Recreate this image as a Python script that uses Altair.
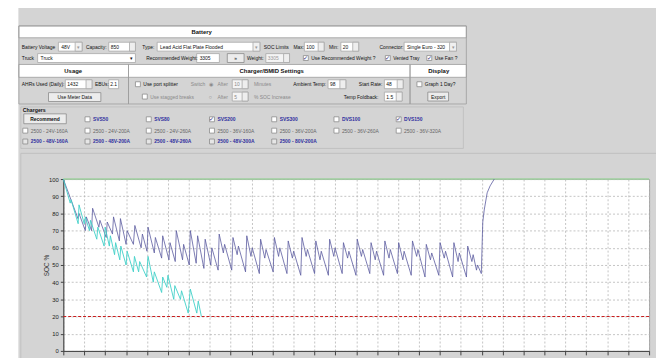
import altair as alt
import pandas as pd

# ---------------- chart data ----------------
cyan_time = [0, 0.33, 0.37, 0.71, 0.75, 1.0, 1.05, 1.25, 1.3, 1.6, 1.65, 1.95, 2.0, 2.2, 2.25,
             2.45, 2.5, 2.7, 2.75, 3.0, 3.05, 3.35, 3.4, 3.6, 3.65, 3.98, 4.05, 4.3, 4.35, 4.7,
             4.75, 4.95, 5.0, 5.28, 5.33, 5.6, 5.65, 5.97, 6.07, 6.38, 6.45, 6.6]
cyan_soc = [100, 86, 88, 74, 85, 74, 78, 70, 76, 65, 72, 61, 72, 61, 67,
            56, 63, 53, 61, 50, 58, 46, 55, 46, 52, 43, 55, 40, 46, 34,
            43, 37, 44, 30, 38, 30, 35, 22, 36, 22, 29, 20]

navy_time = [0, 0.7, 0.75, 1.05, 1.1, 1.35, 1.4, 1.7, 1.75, 2.05, 2.1, 2.35, 2.4, 2.68, 2.73,
             3.0, 3.05, 3.35, 3.42, 3.72, 3.78, 4.0, 4.05, 4.35, 4.4, 4.7, 4.75, 5.05, 5.1,
             5.35, 5.4, 5.7, 5.75, 6.02, 6.07, 6.35, 6.42, 6.72, 6.78, 7.05, 7.1, 7.4,
             7.45, 7.65, 7.71, 8.05, 8.11, 8.31, 8.37, 8.71, 8.77, 8.97, 9.03, 9.37,
             9.43, 9.63, 9.69, 10.03, 10.09, 10.29, 10.35, 10.69, 10.75, 10.95, 11.01, 11.35,
             11.41, 11.61, 11.67, 12.01, 12.07, 12.27, 12.33, 12.67, 12.73, 12.93, 12.99, 13.33,
             13.39, 13.59, 13.65, 13.99, 14.05, 14.25, 14.31, 14.65, 14.71, 14.91, 14.97, 15.31,
             15.37, 15.57, 15.63, 15.97, 16.03, 16.23, 16.29, 16.63, 16.69, 16.89, 16.95, 17.29,
             17.35, 17.55, 17.61, 17.95, 18.01, 18.21, 18.27, 18.61, 18.67, 18.87, 18.93, 19.27,
             19.33, 19.53, 19.59, 19.75, 19.8, 19.98,
             20.05, 20.12, 20.26, 20.4, 20.6]
navy_soc = [100, 77, 80, 70, 78, 70, 83, 72, 76, 66, 75, 68, 78, 64, 77,
            62, 70, 62, 73, 60, 68, 58, 72, 57, 66, 54, 67, 53, 63,
            52, 70, 53, 62, 50, 70, 51, 67, 48, 65, 50, 60, 47,
            68, 57, 62, 47, 66, 56, 61, 46, 67, 55, 60, 45,
            65, 54, 59, 46, 66, 55, 60, 45, 64, 54, 58, 44,
            66, 55, 59, 45, 64, 53, 58, 44, 65, 55, 60, 45,
            63, 54, 58, 44, 65, 55, 59, 45, 63, 53, 58, 44,
            64, 54, 59, 45, 63, 53, 58, 44, 64, 55, 59, 43,
            62, 53, 57, 44, 63, 54, 58, 43, 63, 52, 57, 43,
            61, 52, 56, 47, 50, 45,
            75, 82, 92, 96, 100]

soc_max = [100]
soc_min = [20]
x_ticks = list(range(0, 29))
y_ticks = list(range(0, 101, 10))

# ---------------- UI labels ----------------
charger_row1 = ["SVS50", "SVS80", "SVS200", "SVS300", "DVS100", "DVS150"]
charger_row1_checked = [False, False, True, False, False, True]
charger_row2 = ["2500 - 24V-160A", "2500 - 24V-200A", "2500 - 24V-260A", "2500 - 36V-160A",
                "2500 - 36V-200A", "2500 - 36V-260A", "2500 - 36V-320A"]
charger_row3 = ["2500 - 48V-160A", "2500 - 48V-200A", "2500 - 48V-260A", "2500 - 48V-300A",
                "2500 - 80V-200A"]

# ---------------- layout (page pixels) ----------------
OX, OY = 64, 179          # plot origin on the page
W, H = 593, 174
UI_FONT = "Liberation Sans"
BORDER = "#9c9c9c"
BOX = "#a8a8a8"
GRAYTXT = "#8a8a8a"
BLUE = "#2e2e9e"

rects, texts = [], []


def R(x1, y1, x2, y2, fill="white", stroke=BOX):
    rects.append(dict(x=x1 - OX, x2=x2 - OX, y=y1 - OY, y2=y2 - OY, fill=fill, stroke=stroke))


def T(x, y, s, size=5.0, color="#111111", weight="normal", align="left"):
    texts.append(dict(x=x - OX, y=y - OY, text=s, size=size, color=color, weight=weight, align=align))


def spin(x1, y, x2, s, color="#111111", fill="white"):
    R(x1, y - 4.5, x2, y + 4.5, fill)
    R(x2 - 6, y - 4.5, x2, y + 4.5, "#eeeeee")
    T(x1 + 2, y, s, color=color)


def combo(x1, y, x2, s):
    R(x1, y - 4.5, x2, y + 4.5, "white")
    R(x2 - 7, y - 4.5, x2, y + 4.5, "#f0f0f0")
    T(x1 + 3, y, s)
    T(x2 - 3.5, y, "▾", size=5, color="#999999", align="center")


def check(x, y, checked=False, fill="white"):
    R(x, y - 2.5, x + 5, y + 2.5, fill, "#8c8c8c")
    if checked:
        T(x + 2.5, y, "✓", size=6, color="#2b2b7a", align="center")


def button(x1, y1, x2, y2, s, weight="normal"):
    R(x1, y1, x2, y2, "#ececec", "#8a8a8a")
    T((x1 + x2) / 2, (y1 + y2) / 2, s, weight=weight, align="center")


# left white strip
R(0, 0, 18.5, 370, "white", "transparent")

# battery panel
R(19, 24, 472, 36, "white", BORDER)
R(19, 63, 472, 76, "white", BORDER)
R(19, 24, 472, 103, "transparent", BORDER)
R(130, 63, 130, 103, "transparent", BORDER)
R(415, 63, 415, 103, "transparent", BORDER)
T(204, 30, "Battery", 6, weight="bold", align="center")
T(74, 69.5, "Usage", 6, weight="bold", align="center")
T(275, 69.5, "Charger/BMID Settings", 6, weight="bold", align="center")
T(444, 69.5, "Display", 6, weight="bold", align="center")

# row 1
y1 = 45
T(22, y1, "Battery Voltage")
combo(59, y1, 83, "48V")
T(87, y1, "Capacity:")
spin(110, y1, 137, "850")
T(144, y1, "Type:")
combo(159, y1, 263, "Lead Acid Flat Plate Flooded")
T(267, y1, "SOC Limits")
T(297, y1, "Max:")
spin(308, y1, 328, "100")
T(333, y1, "Min:")
spin(345, y1, 363, "20")
T(384, y1, "Connector:")
combo(409, y1, 462, "Single Euro - 320")

# row 2
y2 = 56.5
T(22, y2, "Truck")
R(38, y2 - 4.5, 137, y2 + 4.5, "white")
T(41, y2, "Truck")
T(133, y2, "▾", 5.5, "#111111", align="center")
T(148, y2, "Recommended Weight:")
R(199, y2 - 4.5, 222, y2 + 4.5, "white")
T(202, y2, "3305")
button(230, y2 - 4.5, 247, y2 + 4.5, "»")
T(250, y2, "Weight:")
spin(269, y2, 293, "3305", color="#9a9a9a", fill="#f4f4f4")
check(307, y2, True)
T(315, y2, "Use Recommended Weight ?")
check(390, y2, True)
T(398, y2, "Vented Tray")
check(432, y2, True)
T(440, y2, "Use Fan ?")

# row 3
y3 = 83
T(22, y3, "AHRs Used (Daily):")
spin(66, y3, 93, "1432")
T(96, y3, "EBUs:")
R(110, y3 - 4.5, 120, y3 + 4.5, "white")
T(111.5, y3, "2.1")
check(137, y3)
T(145, y3, "Use port splitter")
T(193, y3, "Switch", color=GRAYTXT)
T(213, y3, "◉", 5.5, GRAYTXT, align="center")
T(220, y3, "After", color=GRAYTXT)
spin(235, y3, 251, "10", color=GRAYTXT, fill="#f4f4f4")
T(257, y3, "Minutes", color=GRAYTXT)
T(330, y3, "Ambient Temp:", align="right")
spin(332, y3, 350, "98")
T(387, y3, "Start Rate:", align="right")
spin(389, y3, 408, "48")
check(422, y3)
T(430, y3, "Graph 1 Day?")

# row 4
y4 = 95.5
button(49, 91.5, 102, 100.5, "Use Meter Data")
check(144, y4)
T(152, y4, "Use stagged breaks", color=GRAYTXT)
T(213, y4, "○", 5.5, GRAYTXT, align="center")
T(220, y4, "After", color=GRAYTXT)
spin(235, y4, 251, "5", color=GRAYTXT, fill="#f4f4f4")
T(257, y4, "% SOC Increase", color=GRAYTXT)
T(383, y4, "Temp Foldback:", align="right")
spin(389, y4, 407, "1.5")
button(433, 91, 454, 100, "Export")

# chargers group
R(21, 106, 469, 148, "transparent", "#bdbdbd")
T(23, 109.5, "Chargers", 5.3, weight="bold")
button(24, 113, 67, 123, "Recommend", weight="bold")
cols = [23, 86, 148, 212, 275, 338, 401]
for i, (lab, ck) in enumerate(zip(charger_row1, charger_row1_checked)):
    check(cols[i + 1], 118.5, ck)
    T(cols[i + 1] + 8, 118.5, lab, color=BLUE, weight="bold")
for i, lab in enumerate(charger_row2):
    check(cols[i], 130)
    T(cols[i] + 8, 130, lab, color="#666666")
for i, lab in enumerate(charger_row3):
    check(cols[i], 141, fill="#e6e6e6")
    T(cols[i] + 8, 141, lab, color=BLUE, weight="bold")

# chart panel frame
R(21, 153, 700, 400, "transparent", "#bcbcbc")

rect_df = pd.DataFrame(rects)
text_df = pd.DataFrame(texts)

# ---------------- chart ----------------
X_ENC = alt.X("t:Q", scale=alt.Scale(domain=[0, 28], nice=False, zero=False),
              axis=alt.Axis(values=x_ticks, labels=False, title=None, tickSize=4, grid=True))
Y_ENC = alt.Y("soc:Q", scale=alt.Scale(domain=[0, 100], nice=False),
              axis=alt.Axis(values=y_ticks, title="SOC %", tickSize=3, labelPadding=2, grid=True,
                            titleAngle=270, titleX=-17.5, titleY=H / 2, titleAlign="center",
                            titleBaseline="middle", titleFontWeight="normal", titleFontSize=6.5,
                            titleColor="#333333", titleFont=UI_FONT))

navy_df = pd.DataFrame({"t": navy_time, "soc": navy_soc})
cyan_df = pd.DataFrame({"t": cyan_time, "soc": cyan_soc})

navy = alt.Chart(navy_df).mark_line(color="#5a5a9e", strokeWidth=0.8).encode(x=X_ENC, y=Y_ENC)
cyan = alt.Chart(cyan_df).mark_line(color="#3fd0c8", strokeWidth=0.9).encode(x=X_ENC, y=Y_ENC)
max_rule = alt.Chart(pd.DataFrame({"soc": soc_max})).mark_rule(
    color="#9fd09f", strokeWidth=1.6).encode(y=Y_ENC)
min_rule = alt.Chart(pd.DataFrame({"soc": soc_min})).mark_rule(
    color="#c81e1e", strokeWidth=1.1, strokeDash=[3, 2]).encode(y=Y_ENC)

ui_rects = alt.Chart(rect_df).mark_rect(strokeWidth=0.8).encode(
    x=alt.X("x:Q", scale=None), x2="x2:Q",
    y=alt.Y("y:Q", scale=None), y2="y2:Q",
    color=alt.Color("fill:N", scale=None),
    stroke=alt.Stroke("stroke:N", scale=None))

text_layers = []
for (wt, al), sub in text_df.groupby(["weight", "align"]):
    text_layers.append(
        alt.Chart(sub.reset_index(drop=True)).mark_text(
            align=al, baseline="middle", fontWeight=wt, font=UI_FONT).encode(
            x=alt.X("x:Q", scale=None), y=alt.Y("y:Q", scale=None), text="text:N",
            color=alt.Color("color:N", scale=None), size=alt.Size("size:Q", scale=None)))

chart = alt.layer(max_rule, min_rule, navy, cyan, ui_rects, *text_layers).properties(
    width=W, height=H,
    padding={"left": 56, "top": 171, "right": 7, "bottom": 5},
    autosize=alt.AutoSizeParams(type="none"),
    background="#d4d4d4",
).configure_view(fill="white", stroke="#a0a0a0", strokeWidth=1).configure_axis(
    domainColor="#404040", tickColor="#404040", labelFont=UI_FONT, labelFontSize=6,
    labelColor="#222222", gridColor="#b4b4b4", gridDash=[2, 2], gridWidth=0.8,
)

chart.save("out.html", embed_options={"renderer": "svg", "actions": False})
